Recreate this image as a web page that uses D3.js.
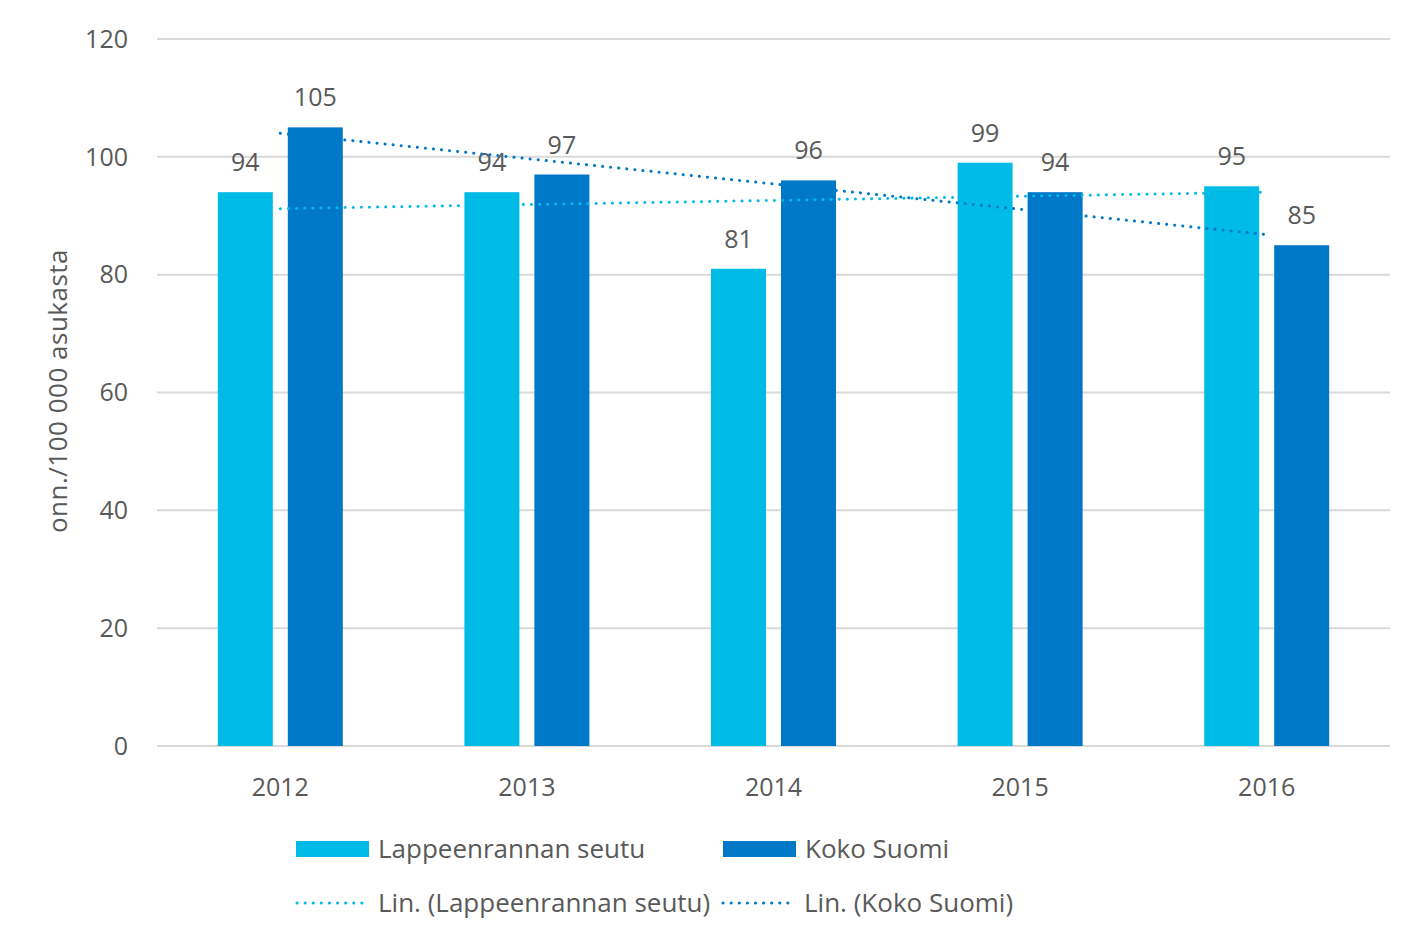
<!DOCTYPE html>
<html>
<head>
<meta charset="utf-8">
<script src="https://cdn.jsdelivr.net/npm/d3@7"></script>
<style>
  body { margin: 0; background: #fff; }
  text { font-family: "Open Sans", "Noto Sans", sans-serif; fill: #595959; }
</style>
</head>
<body>
<div id="chart"></div>
<script>
// data
const years = ["2012", "2013", "2014", "2015", "2016"];
const lappeenranta = [94, 94, 81, 99, 95];
const kokoSuomi = [105, 97, 96, 94, 85];
const yTicks = [0, 20, 40, 60, 80, 100, 120];
const seriesNames = ["Lappeenrannan seutu", "Koko Suomi"];

const colors = ["#00BBE6", "#0078C8"];

const W = 1406, H = 939;
const m = { top: 39, left: 157, right: 16, bottom: 193 };
const cw = W - m.left - m.right;
const ch = H - m.top - m.bottom;

const svg = d3.select("#chart").append("svg")
    .attr("width", W)
    .attr("height", H);

const g = svg.append("g")
    .attr("transform", "translate(" + m.left + "," + m.top + ")");

const x = d3.scaleBand().domain(years).range([0, cw]);
const y = d3.scaleLinear().domain([0, 120]).range([ch, 0]);

const barW = 55, gap = 15;
// left edge of bar si inside its year band
const barX = (yr, si) => x(yr) + x.bandwidth() / 2 - barW - gap / 2 + si * (barW + gap);

// gridlines
g.selectAll(".grid")
  .data(yTicks)
  .enter().append("line")
    .attr("x1", 0).attr("x2", cw)
    .attr("y1", d => y(d)).attr("y2", d => y(d))
    .attr("stroke", "#d9d9d9")
    .attr("stroke-width", 2);

// y tick labels
g.selectAll(".ytick")
  .data(yTicks)
  .enter().append("text")
    .attr("x", -29)
    .attr("y", d => y(d))
    .attr("dy", "0.35em")
    .attr("text-anchor", "end")
    .style("font-size", "25px")
    .text(d => d);

// x labels
g.selectAll(".xtick")
  .data(years)
  .enter().append("text")
    .attr("x", d => x(d) + x.bandwidth() / 2)
    .attr("y", ch + 50)
    .attr("text-anchor", "middle")
    .style("font-size", "25px")
    .text(d => d);

// y title
svg.append("text")
    .attr("transform", "translate(67,391) rotate(-90)")
    .attr("text-anchor", "middle")
    .style("font-size", "26px")
    .style("letter-spacing", "0.5px")
    .text("onn./100 000 asukasta");

const series = [lappeenranta, kokoSuomi];

series.forEach(function(vals, si) {
  const grp = g.append("g");
  grp.selectAll("rect")
    .data(vals)
    .enter().append("rect")
      .attr("x", (d, i) => barX(years[i], si))
      .attr("width", barW)
      .attr("y", d => y(d))
      .attr("height", d => ch - y(d))
      .attr("fill", colors[si]);
  grp.selectAll("text")
    .data(vals)
    .enter().append("text")
      .attr("x", (d, i) => barX(years[i], si) + barW / 2)
      .attr("y", d => y(d) - 21)
      .attr("text-anchor", "middle")
      .style("font-size", "25px")
      .text(d => d);
});

// linear trend lines (least squares over category index)
function trend(vals) {
  const n = vals.length;
  const xs = d3.range(1, n + 1);
  const mx = d3.mean(xs), my = d3.mean(vals);
  const slope = d3.sum(xs, (v, i) => (v - mx) * (vals[i] - my)) / d3.sum(xs, v => (v - mx) * (v - mx));
  return [[0, my + slope * (1 - mx)], [n - 1, my + slope * (n - mx)]];
}

series.forEach(function(vals, si) {
  g.append("path")
    .datum(trend(vals))
    .attr("fill", "none")
    .attr("stroke", colors[si])
    .attr("stroke-width", 3)
    .attr("stroke-linecap", "round")
    .attr("stroke-dasharray", "0.1 8")
    .attr("d", d3.line()
        .x(d => x(years[d[0]]) + x.bandwidth() / 2)
        .y(d => y(d[1])));
});

// legend
const legendItems = [
  { label: seriesNames[0], color: colors[0], type: "box", x: 296, y: 849 },
  { label: seriesNames[1], color: colors[1], type: "box", x: 723, y: 849 },
  { label: "Lin. (" + seriesNames[0] + ")", color: colors[0], type: "line", x: 296, y: 903 },
  { label: "Lin. (" + seriesNames[1] + ")", color: colors[1], type: "line", x: 722, y: 903 }
];

const lg = svg.selectAll(".legend")
  .data(legendItems)
  .enter().append("g")
    .attr("transform", d => "translate(" + d.x + "," + d.y + ")");

lg.filter(d => d.type === "box").append("rect")
    .attr("x", 0).attr("y", -8)
    .attr("width", 73).attr("height", 16)
    .attr("fill", d => d.color);

lg.filter(d => d.type === "line").append("line")
    .attr("x1", 1).attr("x2", 70)
    .attr("y1", 0).attr("y2", 0)
    .attr("stroke", d => d.color)
    .attr("stroke-width", 3)
    .attr("stroke-linecap", "round")
    .attr("stroke-dasharray", "0.1 8");

lg.append("text")
    .attr("x", d => d.type === "box" ? 82 : 82)
    .attr("y", 0)
    .attr("dy", "0.35em")
    .style("font-size", "26px")
    .text(d => d.label);
</script>
</body>
</html>
